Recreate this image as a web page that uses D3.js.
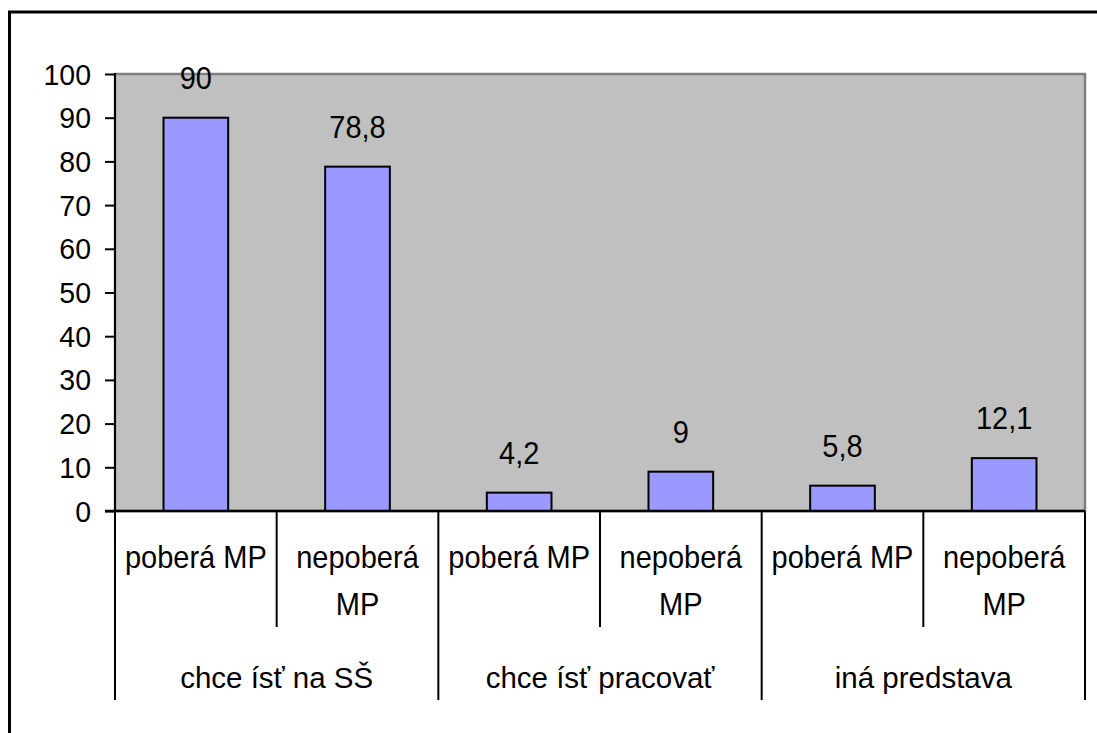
<!DOCTYPE html>
<html>
<head>
<meta charset="utf-8">
<script src="https://cdn.jsdelivr.net/npm/d3@7"></script>
<style>
  body {margin:0; background:#fff}
  text {font-family: Arial, "Liberation Sans", sans-serif; fill:#000}
</style>
</head>
<body>
<svg id="chart" width="1097" height="733"></svg>
<script>
/*** Data ***/
var groups   = ["chce ísť na SŠ", "chce ísť pracovať", "iná predstava"]
var subcats  = ["poberá MP", "nepoberá MP"]
var subLines = [["poberá MP"], ["nepoberá", "MP"]]
var values   = [90, 78.8, 4.2, 9, 5.8, 12.1]
var labels   = ["90", "78,8", "4,2", "9", "5,8", "12,1"]
var yTicks   = [0, 10, 20, 30, 40, 50, 60, 70, 80, 90, 100]

/*** Layout ***/
var PL = 115, PR = 1085, PT = 74, PB = 511
var SUBB = 627, GRPB = 700

var svg = d3.select("#chart")

// text drawn at (x,y) baseline, stretched vertically by sy
function txt(g, x, y, s, size, sy, anchor) {
  return g.append("text")
    .attr("transform", "translate(" + x + "," + y + ") scale(1," + sy + ")")
    .attr("text-anchor", anchor || "middle")
    .attr("font-size", size)
    .text(s)
}

var keys = []
groups.forEach((g, gi) => subcats.forEach((s, si) => keys.push(gi + "|" + si)))

var x = d3.scaleBand().domain(keys).range([PL, PR]).paddingInner(0.6).paddingOuter(0.3)
var y = d3.scaleLinear().domain([0, 100]).range([PB, PT])
var step = x.step()

// outer frame (only top/left visible)
svg.append("line").attr("x1", 8).attr("x2", 1097).attr("y1", 12).attr("y2", 12)
   .attr("stroke", "#000").attr("stroke-width", 3)
svg.append("line").attr("x1", 9.5).attr("x2", 9.5).attr("y1", 11).attr("y2", 733)
   .attr("stroke", "#000").attr("stroke-width", 3)

// plot area
svg.append("rect").attr("x", PL).attr("y", PT).attr("width", PR - PL).attr("height", PB - PT)
   .attr("fill", "#c0c0c0").attr("stroke", "#808080").attr("stroke-width", 2.5)

// bars
svg.append("g").selectAll("rect").data(values).enter().append("rect")
   .attr("x", (d, i) => x(keys[i]))
   .attr("y", d => y(d))
   .attr("width", x.bandwidth())
   .attr("height", d => y(0) - y(d))
   .attr("fill", "#9999ff")
   .attr("stroke", "#000")
   .attr("stroke-width", 2)

// value labels
var vl = svg.append("g")
values.forEach((d, i) => {
  txt(vl, x(keys[i]) + x.bandwidth() / 2, y(d) - 29, labels[i], 29, 1.1)
})

// y axis
var yAxis = d3.axisLeft(y).tickValues(yTicks).tickSize(10).tickFormat("")
var ya = svg.append("g").attr("transform", "translate(" + PL + ",0)").call(yAxis)
ya.select(".domain").remove()
ya.selectAll(".tick line").attr("stroke", "#000").attr("stroke-width", 2)
var yl = svg.append("g")
yTicks.forEach(t => txt(yl, 91, y(t) + 10.5, t, 28.5, 1.05, "end"))
svg.append("line").attr("x1", PL).attr("x2", PL).attr("y1", PT - 1).attr("y2", GRPB)
   .attr("stroke", "#000").attr("stroke-width", 2)

// category axis
svg.append("line").attr("x1", PL - 10).attr("x2", PR).attr("y1", PB).attr("y2", PB)
   .attr("stroke", "#000").attr("stroke-width", 2.5)

var cat = svg.append("g")
keys.forEach((k, i) => {
  var si = i % 2
  var left = x(k) - x.paddingOuter() * step
  var right = left + step
  cat.append("line").attr("x1", right).attr("x2", right).attr("y1", PB)
     .attr("y2", si == 0 ? SUBB : GRPB)
     .attr("stroke", "#000").attr("stroke-width", 2)
  subLines[si].forEach((ln, li) => {
    txt(cat, left + step / 2, 568 + li * 47, ln, 29, 1.08)
  })
})

groups.forEach((g, gi) => {
  var left = x(keys[gi * 2]) - x.paddingOuter() * step
  txt(cat, left + step, 688, g, 29.5, 1.0)
})
</script>
</body>
</html>
